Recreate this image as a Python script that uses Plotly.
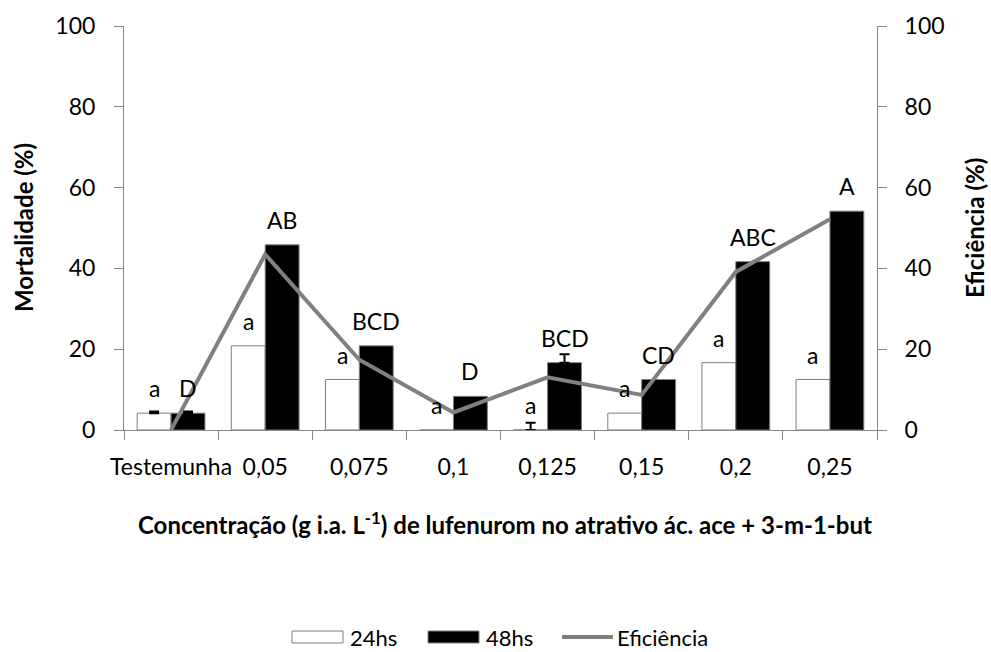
import plotly.graph_objects as go

categories = ["Testemunha", "0,05", "0,075", "0,1", "0,125", "0,15", "0,2", "0,25"]
mort_24 = [4.17, 20.83, 12.5, 0.0, 0.0, 4.17, 16.67, 12.5]
mort_48 = [4.17, 45.83, 20.83, 8.33, 16.67, 12.5, 41.67, 54.17]
err_24 = [0.4, None, None, None, 1.8, None, None, None]
err_48 = [0.4, None, None, None, 2.1, None, None, None]
eficiencia = [0.0, 43.48, 17.39, 4.35, 13.04, 8.70, 39.13, 52.17]
letters_24 = ["a", "a", "a", "a", "a", "a", "a", "a"]
letters_48 = ["D", "AB", "BCD", "D", "BCD", "CD", "ABC", "A"]
series_names = ["24hs", "48hs", "Eficiência"]

FONT = "Lato"
GRAY = "#868686"
LINE_GRAY = "#808080"

# plot-area geometry (pixels)
W, H = 991, 652
L, R, T, B = 124, 114, 26, 222
PW, PH = W - L - R, H - T - B

def px(xpix):
    return (xpix - L) / PW

def py(ypix):
    return (H - B - ypix) / PH

def err_plus(e):
    return ["NaN" if v is None else v for v in e]

def err_minus(e):
    return ["NaN" if v is None else 0 for v in e]

fig = go.Figure()
fig.add_trace(go.Bar(
    x=categories, y=mort_24, name=series_names[0],
    marker=dict(color="white", line=dict(color="#7f7f7f", width=1)),
    error_y=dict(type="data", array=err_plus(err_24), symmetric=False,
                 arrayminus=err_minus(err_24), color="black", thickness=2, width=5),
))
fig.add_trace(go.Bar(
    x=categories, y=mort_48, name=series_names[1],
    marker=dict(color="black", line=dict(color="#7f7f7f", width=1)),
    error_y=dict(type="data", array=err_plus(err_48), symmetric=False,
                 arrayminus=err_minus(err_48), color="black", thickness=2, width=5),
))
fig.add_trace(go.Scatter(
    x=categories, y=eficiencia, name=series_names[2], yaxis="y2",
    mode="lines", line=dict(color=LINE_GRAY, width=4),
))

annotations = []
for i, c in enumerate(categories):
    annotations.append(dict(x=c, y=mort_24[i], xref="x", yref="y", text=letters_24[i],
                            showarrow=False, xshift=-17, yshift=25,
                            font=dict(family=FONT, size=23, color="black")))
    annotations.append(dict(x=c, y=mort_48[i], xref="x", yref="y", text=letters_48[i],
                            showarrow=False, xshift=17, yshift=25,
                            font=dict(family=FONT, size=23, color="black")))

annotations.append(dict(x=px(23), y=0.5, xref="paper", yref="paper", textangle=-90,
                        xanchor="center", yanchor="middle",
                        text="<b>Mortalidade (%)</b>", showarrow=False,
                        font=dict(family=FONT, size=24, color="black")))
annotations.append(dict(x=px(974), y=0.5, xref="paper", yref="paper", textangle=-90,
                        xanchor="center", yanchor="middle",
                        text="<b>Eficiência (%)</b>", showarrow=False,
                        font=dict(family=FONT, size=24, color="black")))
annotations.append(dict(x=px(505), y=py(523), xref="paper", yref="paper",
                        xanchor="center", yanchor="middle",
                        text="<b>Concentração (g i.a. L<sup>-1</sup>) de lufenurom no atrativo ác. ace + 3-m-1-but</b>",
                        showarrow=False, font=dict(family=FONT, size=24, color="black")))

# legend (drawn manually to mimic wide Excel legend keys)
shapes = []
ly = 637
shapes.append(dict(type="rect", xref="paper", yref="paper",
                   x0=px(292), x1=px(343), y0=py(ly + 6), y1=py(ly - 6),
                   fillcolor="white", line=dict(color="#7f7f7f", width=1)))
shapes.append(dict(type="rect", xref="paper", yref="paper",
                   x0=px(428), x1=px(479), y0=py(ly + 6), y1=py(ly - 6),
                   fillcolor="black", line=dict(color="#7f7f7f", width=1)))
shapes.append(dict(type="line", xref="paper", yref="paper",
                   x0=px(562), x1=px(613), y0=py(ly), y1=py(ly),
                   line=dict(color=LINE_GRAY, width=4)))
for xpix, name in zip([348, 484, 615], series_names):
    annotations.append(dict(x=px(xpix), y=py(ly), xref="paper", yref="paper",
                            xanchor="left", yanchor="middle", text=name, showarrow=False,
                            font=dict(family=FONT, size=22, color="black")))

fig.update_layout(
    width=W, height=H,
    margin=dict(l=L, r=R, t=T, b=B, autoexpand=False),
    paper_bgcolor="white", plot_bgcolor="white",
    barmode="group", bargap=0.28, bargroupgap=0,
    font=dict(family=FONT, size=22, color="black"),
    showlegend=False,
    xaxis=dict(type="category", showline=True, linecolor=GRAY, linewidth=1,
               ticks="outside", tickson="boundaries", ticklen=9, tickcolor=GRAY,
               showgrid=False, zeroline=False, tickangle=0, automargin=False,
               ticklabelstandoff=16, tickfont=dict(size=23)),
    yaxis=dict(range=[0, 100], tickvals=[0, 20, 40, 60, 80, 100], showline=True,
               linecolor=GRAY, ticks="outside", ticklen=9, tickcolor=GRAY,
               showgrid=False, zeroline=False, automargin=False,
               ticklabelstandoff=14, tickfont=dict(size=23)),
    yaxis2=dict(range=[0, 100], tickvals=[0, 20, 40, 60, 80, 100], overlaying="y",
                side="right", showline=True, linecolor=GRAY, ticks="outside",
                ticklen=9, tickcolor=GRAY, showgrid=False, zeroline=False,
                automargin=False, ticklabelstandoff=13, tickfont=dict(size=23)),
    annotations=annotations,
    shapes=shapes,
)

fig.write_html("out.html")
